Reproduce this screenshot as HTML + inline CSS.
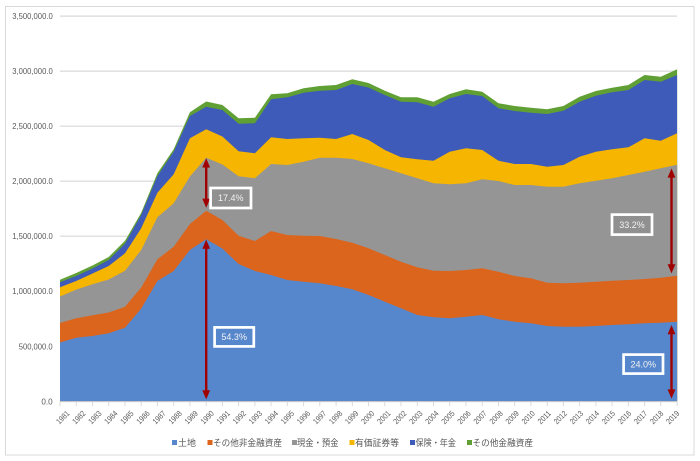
<!DOCTYPE html>
<html><head><meta charset="utf-8"><style>
html,body{margin:0;padding:0;background:#fff;}
svg{display:block;}
text{font-family:"Liberation Sans","Noto Sans CJK JP",sans-serif;}
</style></head><body>
<svg width="700" height="461" viewBox="0 0 700 461" xmlns="http://www.w3.org/2000/svg">
<rect x="0" y="0" width="700" height="461" fill="#fff"/>
<rect x="5.5" y="6.5" width="688.5" height="448.5" fill="#fff" stroke="#d9d9d9" stroke-width="1"/>
<g stroke="#d9d9d9" stroke-width="1.2">
<line x1="60" y1="16.1" x2="677.1" y2="16.1"/>
<line x1="60" y1="71.1" x2="677.1" y2="71.1"/>
<line x1="60" y1="126.2" x2="677.1" y2="126.2"/>
<line x1="60" y1="181.2" x2="677.1" y2="181.2"/>
<line x1="60" y1="236.2" x2="677.1" y2="236.2"/>
<line x1="60" y1="291.2" x2="677.1" y2="291.2"/>
<line x1="60" y1="346.3" x2="677.1" y2="346.3"/>
</g>
<g font-size="8" fill="#595959" text-anchor="end">
<text x="52.7" y="19.1" textLength="40.4" lengthAdjust="spacingAndGlyphs">3,500,000.0</text>
<text x="52.7" y="74.1" textLength="40.4" lengthAdjust="spacingAndGlyphs">3,000,000.0</text>
<text x="52.7" y="129.2" textLength="40.4" lengthAdjust="spacingAndGlyphs">2,500,000.0</text>
<text x="52.7" y="184.2" textLength="40.4" lengthAdjust="spacingAndGlyphs">2,000,000.0</text>
<text x="52.7" y="239.2" textLength="40.4" lengthAdjust="spacingAndGlyphs">1,500,000.0</text>
<text x="52.7" y="294.2" textLength="40.4" lengthAdjust="spacingAndGlyphs">1,000,000.0</text>
<text x="52.7" y="349.3" textLength="34" lengthAdjust="spacingAndGlyphs">500,000.0</text>
<text x="52.7" y="404.3" textLength="11.3" lengthAdjust="spacingAndGlyphs">0.0</text>
</g>
<!-- stacked areas painted top-down -->
<polygon fill="#5f9f34" points="60,279.7 76.2,273 92.5,265.5 108.7,257 125,240.8 141.2,212.7 157.4,173.3 173.7,149.3 189.9,112.3 206.2,101.5 222.4,105 238.6,118.3 254.9,117.7 271.1,94.3 287.3,93.3 303.6,88.3 319.8,86 336.1,85 352.3,79.3 368.5,83 384.8,90.7 401,97.3 417.3,97.3 433.5,101.7 449.7,94 466,89.3 482.2,91.7 498.5,103.3 514.7,106 530.9,107.7 547.2,109.3 563.4,106 579.6,96.7 595.9,91 612.1,87.7 628.4,85 644.6,75 660.8,76.7 677.1,69.3 677.1,401.3 60,401.3"/>
<polygon fill="#3e5bb9" points="60,282.2 76.2,276 92.5,268.5 108.7,260 125,243.7 141.2,215 157.4,176 173.7,151.7 189.9,116 206.2,106.7 222.4,110 238.6,123.7 254.9,123.3 271.1,99.3 287.3,97.3 303.6,92.7 319.8,90.7 336.1,90 352.3,84 368.5,87.5 384.8,95 401,101.7 417.3,102.3 433.5,106.7 449.7,98.3 466,94 482.2,96 498.5,108.3 514.7,111 530.9,112.7 547.2,114 563.4,110.7 579.6,101.7 595.9,95.7 612.1,92.3 628.4,90 644.6,80 660.8,81.7 677.1,75 677.1,401.3 60,401.3"/>
<polygon fill="#f6b500" points="60,287.3 76.2,281 92.5,273.5 108.7,266 125,253.3 141.2,228.3 157.4,192.7 173.7,174.3 189.9,138.3 206.2,129.3 222.4,136.5 238.6,151.3 254.9,153.3 271.1,137.3 287.3,139 303.6,138.3 319.8,137.7 336.1,139 352.3,134 368.5,140 384.8,150 401,157.3 417.3,159.3 433.5,160.7 449.7,151.7 466,148.3 482.2,150 498.5,160.7 514.7,164 530.9,164 547.2,166.7 563.4,165 579.6,156.7 595.9,151.7 612.1,149.3 628.4,147.3 644.6,138.3 660.8,140.7 677.1,133.3 677.1,401.3 60,401.3"/>
<polygon fill="#959595" points="60,296.5 76.2,289.6 92.5,284.3 108.7,279.5 125,270.8 141.2,250 157.4,217.3 173.7,203.3 189.9,176.5 206.2,157.8 222.4,164.5 238.6,176.3 254.9,178.3 271.1,164 287.3,165 303.6,161.7 319.8,157.7 336.1,157.7 352.3,159 368.5,163.3 384.8,168.3 401,173.3 417.3,178.3 433.5,183.3 449.7,184.3 466,183.3 482.2,179.3 498.5,181 514.7,185 530.9,185 547.2,186.7 563.4,186.7 579.6,183.3 595.9,180.7 612.1,178.3 628.4,175 644.6,171.7 660.8,168.3 677.1,164.7 677.1,401.3 60,401.3"/>
<polygon fill="#dc651d" points="60,323 76.2,318.3 92.5,315.3 108.7,312.5 125,306.7 141.2,287.5 157.4,259.3 173.7,246.7 189.9,224 206.2,210.8 222.4,220 238.6,235.7 254.9,241 271.1,231 287.3,235 303.6,235.7 319.8,236 336.1,239 352.3,242.7 368.5,248.3 384.8,255 401,261.7 417.3,267.3 433.5,270.7 449.7,271 466,270 482.2,268.3 498.5,271.7 514.7,276 530.9,278.3 547.2,282.7 563.4,283.3 579.6,282.7 595.9,281.7 612.1,280.7 628.4,280 644.6,279 660.8,277.7 677.1,275.7 677.1,401.3 60,401.3"/>
<polygon fill="#5687cd" points="60,342.5 76.2,337.8 92.5,336 108.7,333.3 125,327.7 141.2,308.6 157.4,281 173.7,271 189.9,250 206.2,239.2 222.4,248.5 238.6,264 254.9,271 271.1,275 287.3,280 303.6,281.7 319.8,283.3 336.1,286 352.3,289.3 368.5,295 384.8,301.7 401,308.3 417.3,315 433.5,317.3 449.7,318.3 466,316.7 482.2,315 498.5,319.3 514.7,321.7 530.9,323.3 547.2,326 563.4,326.7 579.6,326.7 595.9,326 612.1,325 628.4,324.3 644.6,323.3 660.8,322.7 677.1,321.7 677.1,401.3 60,401.3"/>
<!-- x axis -->
<line x1="60" y1="401.8" x2="677.1" y2="401.8" stroke="#d9d9d9" stroke-width="1"/>
<g stroke="#d9d9d9" stroke-width="1">
<path d="M60,401.8v4.5M76.2,401.8v4.5M92.5,401.8v4.5M108.7,401.8v4.5M125,401.8v4.5M141.2,401.8v4.5M157.4,401.8v4.5M173.7,401.8v4.5M189.9,401.8v4.5M206.2,401.8v4.5M222.4,401.8v4.5M238.6,401.8v4.5M254.9,401.8v4.5M271.1,401.8v4.5M287.3,401.8v4.5M303.6,401.8v4.5M319.8,401.8v4.5M336.1,401.8v4.5M352.3,401.8v4.5M368.5,401.8v4.5M384.8,401.8v4.5M401,401.8v4.5M417.3,401.8v4.5M433.5,401.8v4.5M449.7,401.8v4.5M466,401.8v4.5M482.2,401.8v4.5M498.5,401.8v4.5M514.7,401.8v4.5M530.9,401.8v4.5M547.2,401.8v4.5M563.4,401.8v4.5M579.6,401.8v4.5M595.9,401.8v4.5M612.1,401.8v4.5M628.4,401.8v4.5M644.6,401.8v4.5M660.8,401.8v4.5M677.1,401.8v4.5"/>
</g>
<g font-size="8" fill="#595959" text-anchor="end">
<text transform="translate(70,414) rotate(-45)" textLength="15" lengthAdjust="spacingAndGlyphs">1981</text>
<text transform="translate(86.05,414) rotate(-45)" textLength="15" lengthAdjust="spacingAndGlyphs">1982</text>
<text transform="translate(102.1,414) rotate(-45)" textLength="15" lengthAdjust="spacingAndGlyphs">1983</text>
<text transform="translate(118.15,414) rotate(-45)" textLength="15" lengthAdjust="spacingAndGlyphs">1984</text>
<text transform="translate(134.2,414) rotate(-45)" textLength="15" lengthAdjust="spacingAndGlyphs">1985</text>
<text transform="translate(150.25,414) rotate(-45)" textLength="15" lengthAdjust="spacingAndGlyphs">1986</text>
<text transform="translate(166.3,414) rotate(-45)" textLength="15" lengthAdjust="spacingAndGlyphs">1987</text>
<text transform="translate(182.35,414) rotate(-45)" textLength="15" lengthAdjust="spacingAndGlyphs">1988</text>
<text transform="translate(198.4,414) rotate(-45)" textLength="15" lengthAdjust="spacingAndGlyphs">1989</text>
<text transform="translate(214.45,414) rotate(-45)" textLength="15" lengthAdjust="spacingAndGlyphs">1990</text>
<text transform="translate(230.5,414) rotate(-45)" textLength="15" lengthAdjust="spacingAndGlyphs">1991</text>
<text transform="translate(246.55,414) rotate(-45)" textLength="15" lengthAdjust="spacingAndGlyphs">1992</text>
<text transform="translate(262.6,414) rotate(-45)" textLength="15" lengthAdjust="spacingAndGlyphs">1993</text>
<text transform="translate(278.65,414) rotate(-45)" textLength="15" lengthAdjust="spacingAndGlyphs">1994</text>
<text transform="translate(294.7,414) rotate(-45)" textLength="15" lengthAdjust="spacingAndGlyphs">1995</text>
<text transform="translate(310.75,414) rotate(-45)" textLength="15" lengthAdjust="spacingAndGlyphs">1996</text>
<text transform="translate(326.8,414) rotate(-45)" textLength="15" lengthAdjust="spacingAndGlyphs">1997</text>
<text transform="translate(342.85,414) rotate(-45)" textLength="15" lengthAdjust="spacingAndGlyphs">1998</text>
<text transform="translate(358.9,414) rotate(-45)" textLength="15" lengthAdjust="spacingAndGlyphs">1999</text>
<text transform="translate(374.95,414) rotate(-45)" textLength="15" lengthAdjust="spacingAndGlyphs">2000</text>
<text transform="translate(391,414) rotate(-45)" textLength="15" lengthAdjust="spacingAndGlyphs">2001</text>
<text transform="translate(407.05,414) rotate(-45)" textLength="15" lengthAdjust="spacingAndGlyphs">2002</text>
<text transform="translate(423.1,414) rotate(-45)" textLength="15" lengthAdjust="spacingAndGlyphs">2003</text>
<text transform="translate(439.15,414) rotate(-45)" textLength="15" lengthAdjust="spacingAndGlyphs">2004</text>
<text transform="translate(455.2,414) rotate(-45)" textLength="15" lengthAdjust="spacingAndGlyphs">2005</text>
<text transform="translate(471.25,414) rotate(-45)" textLength="15" lengthAdjust="spacingAndGlyphs">2006</text>
<text transform="translate(487.3,414) rotate(-45)" textLength="15" lengthAdjust="spacingAndGlyphs">2007</text>
<text transform="translate(503.35,414) rotate(-45)" textLength="15" lengthAdjust="spacingAndGlyphs">2008</text>
<text transform="translate(519.4,414) rotate(-45)" textLength="15" lengthAdjust="spacingAndGlyphs">2009</text>
<text transform="translate(535.45,414) rotate(-45)" textLength="15" lengthAdjust="spacingAndGlyphs">2010</text>
<text transform="translate(551.5,414) rotate(-45)" textLength="15" lengthAdjust="spacingAndGlyphs">2011</text>
<text transform="translate(567.55,414) rotate(-45)" textLength="15" lengthAdjust="spacingAndGlyphs">2012</text>
<text transform="translate(583.6,414) rotate(-45)" textLength="15" lengthAdjust="spacingAndGlyphs">2013</text>
<text transform="translate(599.65,414) rotate(-45)" textLength="15" lengthAdjust="spacingAndGlyphs">2014</text>
<text transform="translate(615.7,414) rotate(-45)" textLength="15" lengthAdjust="spacingAndGlyphs">2015</text>
<text transform="translate(631.75,414) rotate(-45)" textLength="15" lengthAdjust="spacingAndGlyphs">2016</text>
<text transform="translate(647.8,414) rotate(-45)" textLength="15" lengthAdjust="spacingAndGlyphs">2017</text>
<text transform="translate(663.85,414) rotate(-45)" textLength="15" lengthAdjust="spacingAndGlyphs">2018</text>
<text transform="translate(679.9,414) rotate(-45)" textLength="15" lengthAdjust="spacingAndGlyphs">2019</text>
</g>
<!-- arrows -->
<g fill="#a00000" stroke="none">
<rect x="205" y="166" width="2.4" height="35"/>
<polygon points="206.2,158.3 202.3,167.5 210.1,167.5"/>
<polygon points="206.2,207.8 202.3,198.6 210.1,198.6"/>
<rect x="205" y="247" width="2.4" height="145"/>
<polygon points="206.2,239.6 202.3,248.8 210.1,248.8"/>
<polygon points="206.2,399.4 202.3,390.2 210.1,390.2"/>
<rect x="670.3" y="176" width="2.4" height="90"/>
<polygon points="671.5,168.4 667.6,177.6 675.4,177.6"/>
<polygon points="671.5,273.4 667.6,264.2 675.4,264.2"/>
<rect x="670.3" y="332" width="2.4" height="59"/>
<polygon points="671.5,325 667.6,334.2 675.4,334.2"/>
<polygon points="671.5,398.6 667.6,389.4 675.4,389.4"/>
</g>
<!-- label boxes -->
<g stroke="#fff" stroke-width="2.7">
<rect x="210.6" y="188" width="40.4" height="20" fill="#909090"/>
<rect x="214.6" y="327.4" width="39.2" height="19" fill="#5687cd"/>
<rect x="612" y="214.6" width="40" height="20" fill="#909090"/>
<rect x="623.6" y="354.6" width="39.4" height="19" fill="#5687cd"/>
</g>
<g font-size="9" fill="#f2f2f2" text-anchor="middle">
<text x="230.8" y="201.2">17.4%</text>
<text x="234.2" y="340.2">54.3%</text>
<text x="632" y="227.8">33.2%</text>
<text x="643.3" y="367.4">24.0%</text>
</g>
<!-- legend -->
<g>
<rect x="172" y="440" width="5" height="5" fill="#5687cd"/>
<rect x="207.5" y="440" width="5" height="5" fill="#dc651d"/>
<rect x="292" y="440" width="5" height="5" fill="#959595"/>
<rect x="349.5" y="440" width="5" height="5" fill="#f6b500"/>
<rect x="410" y="440" width="5" height="5" fill="#3e5bb9"/>
<rect x="467" y="440" width="5" height="5" fill="#5f9f34"/>
</g>
<g font-size="9" fill="#595959">
<text x="178" y="445.8" textLength="18" lengthAdjust="spacingAndGlyphs">土地</text>
<text x="213" y="445.8" textLength="69" lengthAdjust="spacingAndGlyphs">その他非金融資産</text>
<text x="297" y="445.8" textLength="41.5" lengthAdjust="spacingAndGlyphs">現金・預金</text>
<text x="355" y="445.8" textLength="44" lengthAdjust="spacingAndGlyphs">有価証券等</text>
<text x="415.5" y="445.8" textLength="40.5" lengthAdjust="spacingAndGlyphs">保険・年金</text>
<text x="472.5" y="445.8" textLength="60.5" lengthAdjust="spacingAndGlyphs">その他金融資産</text>
</g>
</svg>
</body></html>
